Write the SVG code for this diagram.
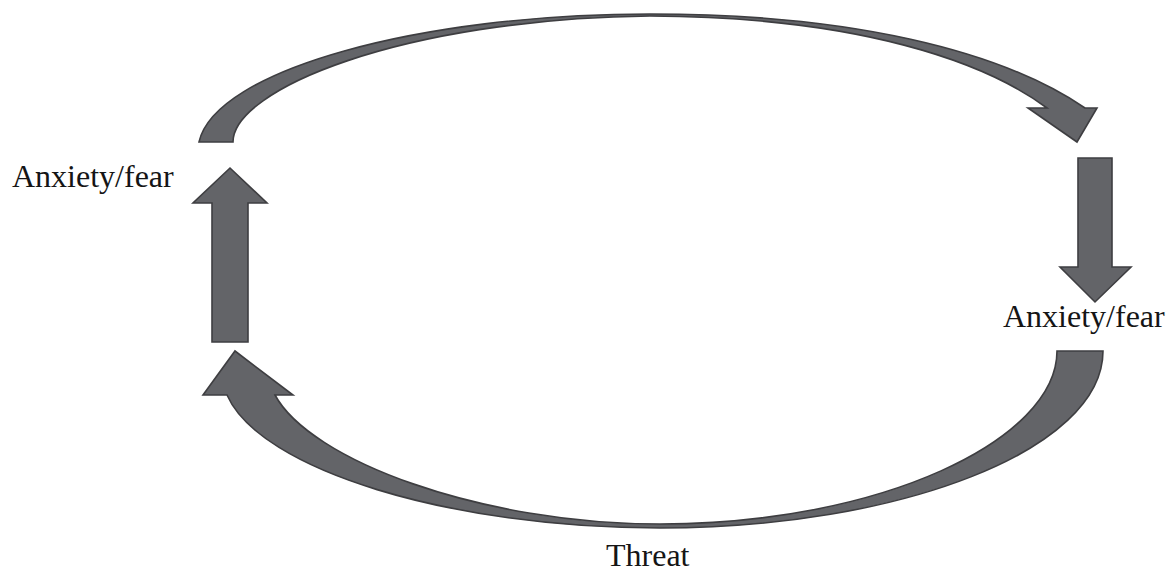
<svg xmlns="http://www.w3.org/2000/svg" width="1172" height="573" viewBox="0 0 1172 573">
  <style>
    .arrow { fill: #636468; stroke: #3e3e41; stroke-width: 1.6; stroke-linejoin: miter; }
    .label { font-family: "Liberation Serif", "Times New Roman", serif; font-size: 32px; fill: #151515; }
  </style>
  <rect width="1172" height="573" fill="#ffffff"/>

  <g id="connectors">
    <!-- top arc: left anxiety/fear over to the right -->
    <path id="arc-top" class="arrow" d="M199,142 C215,70 420,14 650,14 C850,14 1000,50 1085,108 L1097,108 L1077,142 L1028,108 L1047,108 C985,62 860,17 650,16 C400,19 233,90 233,142 Z"/>
    <!-- right straight arrow pointing down -->
    <path id="arrow-down" class="arrow" d="M1078,158 L1112,158 L1112,267 L1131,267 L1095,302 L1060,267 L1078,267 Z"/>
    <!-- bottom arc: from the right back round to the left -->
    <path id="arc-bottom" class="arrow" d="M1103,351 C1103,450 900,528 660,528 C450,528 260,470 227,395 L203,395 L235,351 L293,395 L275,395 C310,460 480,524 660,524 C880,524 1057,440 1057,351 Z"/>
    <!-- left straight arrow pointing up -->
    <path id="arrow-up" class="arrow" d="M212,342 L248,342 L248,203 L267,203 L230,168 L193,203 L212,203 Z"/>
  </g>

  <g id="node-anxiety-left">
    <text class="label" x="12" y="187">Anxiety/fear</text>
  </g>
  <g id="node-anxiety-right">
    <text class="label" x="1003" y="327">Anxiety/fear</text>
  </g>
  <g id="node-threat">
    <text class="label" x="606" y="566">Threat</text>
  </g>
</svg>
